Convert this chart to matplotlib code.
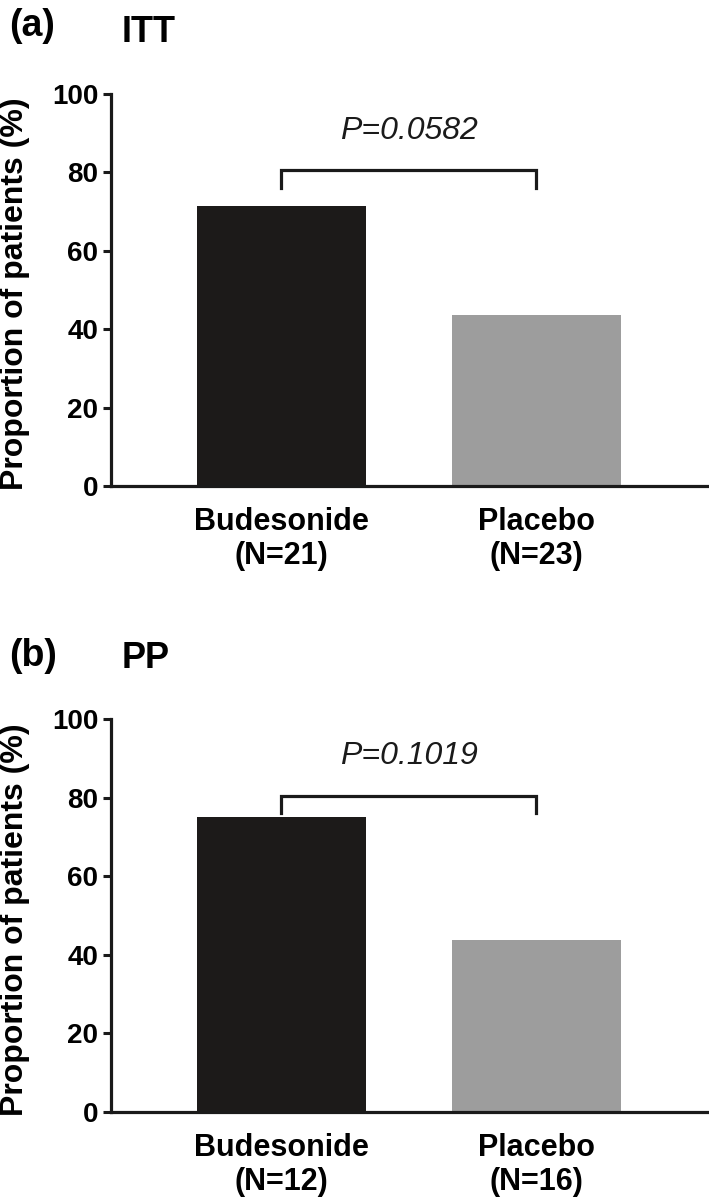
import matplotlib
matplotlib.use("Agg")
import matplotlib.pyplot as plt

# Data
categories_itt = ["Budesonide\n(N=21)", "Placebo\n(N=23)"]
values_itt = [71.4, 43.5]
pvalue_itt = "P=0.0582"

categories_pp = ["Budesonide\n(N=12)", "Placebo\n(N=16)"]
values_pp = [75.0, 43.75]
pvalue_pp = "P=0.1019"

yticks = [0, 20, 40, 60, 80, 100]
bar_colors = ["#1c1a19", "#9d9d9d"]

plt.rcParams['font.family'] = ['Liberation Sans', 'DejaVu Sans']

fig = plt.figure(figsize=(7.09, 12.0), dpi=100)

W, H = 709.0, 1200.0


def make_panel(top_px, bottom_px, cats, vals, ptext, letter, title, letter_y, title_y):
    left_px, right_px = 111, 707
    ax = fig.add_axes([left_px / W, 1 - bottom_px / H,
                       (right_px - left_px) / W, (bottom_px - top_px) / H])
    x = [0, 1]
    ax.bar(x, vals, width=0.663, color=bar_colors, edgecolor='none', zorder=2)
    ax.set_xlim(-0.667, 1.67)
    ax.set_ylim(0, 100)
    ax.set_yticks(yticks)
    ax.set_yticklabels([str(t) for t in yticks], fontsize=20, fontweight='bold')
    ax.set_xticks(x)
    ax.set_xticklabels(cats, fontsize=22, fontweight='bold', linespacing=1.2)
    ax.tick_params(axis='x', length=0, pad=15)
    ax.tick_params(axis='y', length=6, width=2.2, direction='out', pad=3, color='#1a1a1a')
    for s in ['top', 'right']:
        ax.spines[s].set_visible(False)
    for s in ['left', 'bottom']:
        ax.spines[s].set_linewidth(2.3)
        ax.spines[s].set_color('#1a1a1a')
    ax.spines['bottom'].set_zorder(3)
    ax.set_ylabel("Proportion of patients (%)", fontsize=23, fontweight='bold',
                  ha='center', va='center')
    ax.yaxis.set_label_coords((15 - left_px) / (right_px - left_px), 0.49)

    # significance bracket between bar centres
    ytop = 80.5
    yleg = 76.0
    ax.plot([x[0], x[0], x[1], x[1]], [yleg, ytop, ytop, yleg],
            color='#1a1a1a', lw=2.3, solid_joinstyle='miter', clip_on=False, zorder=4)
    ax.text((x[0] + x[1]) / 2, 88.5, ptext, fontsize=23, style='italic',
            ha='center', va='baseline', color='#1a1a1a')

    fig.text(9 / W, 1 - letter_y / H, letter, fontsize=27, fontweight='bold',
             ha='left', va='baseline')
    fig.text(122 / W, 1 - title_y / H, title, fontsize=26, fontweight='bold',
             ha='left', va='baseline')
    return ax


make_panel(94, 486, categories_itt, values_itt, pvalue_itt, "(a)", "ITT", 36, 42)
make_panel(719, 1112, categories_pp, values_pp, pvalue_pp, "(b)", "PP", 666, 668)

fig.savefig("out.png", dpi=100)
